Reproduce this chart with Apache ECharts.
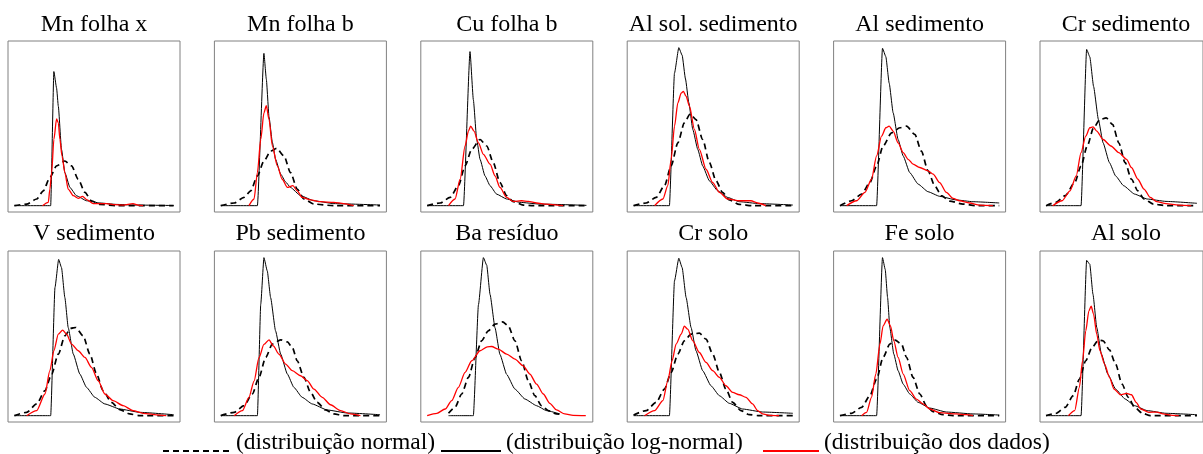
<!DOCTYPE html>
<html>
<head>
<meta charset="utf-8">
<script src="https://cdn.jsdelivr.net/npm/echarts@6/dist/echarts.min.js"></script>
<style>
html,body{margin:0;padding:0;background:#fff;}
#chart{width:1203px;height:454px;}
</style>
</head>
<body>
<div id="chart"></div>
<script>
// Panel titles (row-major order)
const panelTitles = ['Mn folha x','Mn folha b','Cu folha b','Al sol. sedimento','Al sedimento','Cr sedimento',
  'V sedimento','Pb sedimento','Ba resíduo','Cr solo','Fe solo','Al solo'];
const seriesNames = ['(distribuição normal)','(distribuição log-normal)','(distribuição dos dados)'];

// Each curve: [x, density] in relative units (x 0..100 of the plotted range, density 0..100 of the panel's max)
const p1Normal = [[0,0],[7.7,1.0],[14.0,4.2],[18.2,9.4],[22.3,17.8],[26.5,25.1],[31.7,28.2],[35.9,25.1],[40.1,16.7],[44.3,8.4],[48.4,3.1],[53.7,0.8],[64.1,0],[100,0]];
const p1LogNormal = [[0,0],[22.8,0],[24.8,84.7],[26.5,74.3],[27.6,62.8],[29.6,35.6],[31.7,20.9],[34.9,11.5],[39.0,6.3],[45.3,3.1],[53.7,1.7],[64.1,0.8],[74.5,0.4],[100,0.1]];
const p1Data = [[17.7,0],[21.3,2.1],[22.3,10.5],[23.4,20.9],[24.8,41.8],[26.5,54.8],[27.6,52.3],[28.6,41.8],[29.9,31.4],[31.7,20.9],[33.8,10.5],[37.0,6.3],[40.1,4.6],[42.8,5.9],[45.7,3.6],[49.5,1.3],[57.8,1.3],[63.0,0.6],[68.3,0.4],[74.5,1.3],[77.7,0.4],[80.8,0]];

const p2Normal = [[0,0],[8.4,1.7],[14.6,5.2],[18.8,9.4],[23.0,18.8],[27.1,28.2],[31.3,34.5],[35.1,36.2],[39.7,31.4],[43.8,20.9],[48.0,10.5],[52.2,4.2],[58.5,1.0],[71.0,0],[100,0]];
const p2LogNormal = [[0,0],[23.0,0],[27.1,96.2],[28.6,80],[30.3,56],[32.4,40],[34.4,29.3],[37.6,20],[40.7,15],[43.8,11.5],[50.1,6.3],[58.5,3.1],[71.0,1.3],[100,0.4]];
const p2Data = [[17.7,0],[20.9,4.2],[23.0,20.9],[25.1,41.8],[27.1,58.6],[28.6,63.2],[30.3,54.4],[32.4,37.7],[35.5,25.1],[38.6,16.7],[41.8,11.5],[45.3,12.6],[48.0,9.4],[51.1,5.2],[56.4,3.6],[62.6,2.5],[71.0,2.1],[77.2,1.3],[83.5,0]];

const p3Normal = [[0,0],[8.1,1.7],[14.4,5.2],[19.6,12.6],[23.8,25.1],[28.0,35.6],[33.2,41.8],[37.4,37.7],[41.5,27.2],[45.7,14.6],[49.9,6.3],[54.1,2.5],[60.3,0.4],[66.6,0],[100,0]];
const p3LogNormal = [[0,0],[22.8,0],[26.9,97.3],[29.0,66.9],[31.1,41.8],[33.2,29.3],[36.3,18.8],[39.5,12.6],[43.6,7.3],[49.9,4.2],[58.2,2.1],[70.8,1.0],[100,0.2]];
const p3Data = [[13.4,0],[17.5,4.2],[20.7,16.7],[23.8,37.7],[25.9,47.1],[27.3,50.2],[29.4,47.1],[32.2,39.7],[35.3,32.4],[39.5,26.2],[42.6,18.8],[45.7,11.5],[49.9,5.2],[54.1,2.7],[59.3,3.1],[63.5,2.7],[68.7,1.7],[74.9,1.0],[85.4,0]];

const p4Normal = [[0,0],[7.9,1.7],[14.2,5.2],[19.4,12.6],[23.6,25.1],[27.8,39.7],[31.9,52.3],[35.5,57.9],[39.2,54.4],[43.4,41.8],[47.6,27.2],[51.8,15.7],[55.9,8.4],[60.1,3.6],[66.4,0.8],[74.7,0],[100,0]];
const p4LogNormal = [[0,0],[22.5,0],[25.7,83.7],[28.4,99.8],[30.5,95],[32.6,80],[34.7,65],[37.2,48.1],[40.3,35.6],[43.4,25.1],[47.6,15.7],[52.8,9.4],[59.1,5.2],[66.4,2.5],[78.9,1.3],[100,0.4]];
const p4Data = [[13.2,0],[18.4,4.2],[21.5,12.6],[23.6,29.3],[25.7,50.2],[27.8,64.9],[29.9,71.1],[31.3,72.2],[33.0,69.0],[35.1,62.8],[38.2,48.1],[41.3,35.6],[45.5,23.0],[49.7,14.6],[53.9,8.4],[59.1,4.2],[66.4,3.1],[73.7,3.1],[77.9,1.7],[83.1,0]];

const p5Normal = [[0,0],[7.3,3.1],[13.6,7.3],[18.8,14.6],[23.0,25.1],[27.1,37.7],[32.4,46.0],[37.6,49.2],[41.8,50.2],[47.0,45.0],[51.1,34.5],[55.3,22.0],[59.5,12.6],[63.7,6.3],[68.9,2.9],[77.2,1.0],[85.6,0],[100,0]];
const p5LogNormal = [[0,0],[23.0,0],[26.7,99.4],[28.8,94.1],[30.9,77.4],[33.4,58.6],[36.5,41.8],[39.7,31.4],[43.8,20.9],[49.1,13.6],[55.3,8.8],[62.6,5.9],[73.1,3.6],[83.5,2.5],[100,1.7]];
const p5Data = [[4.2,0],[10.4,3.1],[15.7,8.4],[19.8,16.7],[23.0,31.4],[26.1,43.9],[28.8,49.2],[30.9,50.2],[33.4,47.1],[36.5,39.7],[39.7,33.5],[42.8,29.3],[45.9,26.2],[50.1,24.1],[55.3,22.0],[58.5,19.9],[62.6,14.6],[66.8,8.4],[71.0,4.6],[75.2,3.1],[81.4,1.7],[87.7,0.4],[96.0,0]];

const p6Normal = [[0,0],[6.5,2.1],[12.7,6.3],[19.0,14.6],[23.2,25.1],[27.3,37.7],[31.5,49.2],[35.7,54.4],[39.9,55.4],[44.1,51.3],[48.2,39.7],[52.4,27.2],[56.6,16.7],[60.8,9.4],[64.9,4.2],[71.2,1.0],[79.5,0],[100,0]];
const p6LogNormal = [[0,0],[23.2,0],[26.9,98.7],[29.0,94],[31.5,75.3],[34.7,54.4],[37.8,39.7],[42.0,27.2],[46.1,18.8],[51.4,12.6],[58.7,7.3],[67.0,4.2],[79.5,2.7],[100,1.5]];
const p6Data = [[4.4,0],[10.6,3.1],[15.9,9.4],[20.0,18.8],[23.2,33.5],[26.3,43.9],[29.0,49.2],[31.1,49.8],[33.6,47.1],[37.8,41.8],[43.0,37.7],[48.2,33.5],[53.4,29.3],[56.6,24.1],[60.8,16.7],[64.9,10.5],[69.1,5.2],[73.3,2.5],[79.5,1.3],[87.9,0.4],[96.2,0]];

const p7Normal = [[0,0],[7.7,2.1],[14.0,7.4],[19.2,15.8],[23.4,26.3],[27.6,38.9],[31.7,50.4],[35.3,55.1],[38.6,55.7],[43.2,50.4],[47.4,38.9],[51.6,26.3],[55.7,15.8],[61.0,8.4],[66.2,3.8],[72.4,1.1],[78.7,0],[100,0]];
const p7LogNormal = [[0,0],[22.8,0],[25.5,80.9],[27.8,98.7],[29.6,93.5],[31.7,74.6],[33.8,55.7],[37.0,38.9],[41.1,26.3],[45.3,17.9],[50.5,11.6],[56.8,7.4],[66.2,4.2],[78.7,2.1],[100,0.6]];
const p7Data = [[7.7,0],[14.0,3.2],[19.2,13.7],[22.3,28.4],[24.8,41.0],[27.6,51.5],[30.3,54.0],[32.8,51.5],[35.9,45.2],[40.1,41.0],[44.3,36.8],[48.4,30.5],[52.6,22.1],[56.8,13.7],[62.0,9.5],[68.3,6.3],[74.5,3.2],[80.8,1.5],[91.2,0.4],[95.4,0]];

const p8Normal = [[0,0],[8.4,2.1],[14.6,6.3],[19.8,13.7],[24.0,24.2],[28.2,36.8],[32.4,45.2],[37.6,47.9],[41.8,46.6],[44.9,43.1],[48.0,34.7],[52.2,24.2],[56.4,14.7],[60.5,8.4],[65.8,3.6],[71.0,1.1],[77.2,0],[100,0]];
const p8LogNormal = [[0,0],[23.0,0],[25.1,70.4],[27.1,99.8],[29.2,91.4],[31.3,74.6],[34.4,53.6],[37.6,38.9],[41.8,26.3],[45.9,17.9],[51.1,11.6],[57.4,7.4],[66.8,3.6],[79.3,1.7],[100,0.6]];
const p8Data = [[8.4,0],[13.6,3.2],[17.7,11.6],[20.9,21.8],[24.0,36.6],[27.1,45.0],[30.3,47.9],[33.0,44.1],[36.5,38.9],[40.7,32.6],[44.9,28.4],[50.1,25.2],[54.3,22.1],[58.5,16.8],[63.7,11.6],[68.9,6.9],[75.2,3.2],[81.4,1.1],[87.7,0]];

const p9Normal = [[13.4,1.5],[17.5,5.3],[21.7,13.7],[25.9,24.2],[30.1,36.8],[34.2,47.3],[38.4,53.6],[42.6,57.8],[47.4,59.2],[50.9,56.7],[55.1,47.3],[59.3,34.7],[63.5,22.1],[67.6,12.6],[71.8,6.3],[76.0,3.2],[81.2,1.1],[85.4,0.4]];
const p9LogNormal = [[13.4,0],[29.0,0],[32.2,70],[35.3,99.8],[37.4,95],[39.5,76.5],[42.6,55.5],[45.7,38.7],[49.9,26.1],[55.1,16.8],[61.4,10.5],[68.7,6.3],[74.9,3.2],[83.3,1.1]];
const p9Data = [[0,0],[6.1,1.5],[11.3,4.2],[15.4,9.5],[19.6,17.9],[23.8,27.3],[28.0,34.7],[33.2,41.0],[37.8,43.5],[40.5,43.7],[44.7,42.0],[49.9,38.9],[55.1,35.7],[60.3,31.5],[64.5,26.3],[68.7,19.9],[72.9,13.7],[77.0,7.8],[81.2,3.6],[86.4,1.1],[91.6,0.2],[99.6,0]];

const p10Normal = [[0,0.4],[7.9,3.2],[14.2,8.4],[19.4,16.8],[23.6,27.3],[27.8,38.9],[31.9,47.3],[36.1,51.5],[41.3,52.1],[45.5,48.3],[49.7,38.9],[53.9,27.3],[58.0,16.8],[62.2,8.4],[67.4,3.2],[72.7,0.6],[78.9,0],[100,0]];
const p10LogNormal = [[0,0],[22.5,0],[25.7,85.1],[28.4,99.4],[30.5,93.5],[33.0,74.6],[36.1,55.7],[39.2,41.0],[43.4,28.4],[48.6,18.9],[53.9,12.6],[60.1,7.8],[68.5,4.2],[81.0,2.3],[100,1.5]];
const p10Data = [[6.9,0],[13.2,3.2],[18.4,9.5],[21.5,22.1],[24.2,34.7],[26.7,45.2],[29.9,51.5],[31.9,56.5],[34.0,54.6],[37.2,47.3],[41.3,39.9],[45.5,33.6],[49.7,28.4],[53.9,24.2],[58.0,18.9],[62.2,14.7],[66.4,13.2],[70.6,11.6],[74.7,7.4],[77.9,3.2],[81.0,1.1],[85.2,0.2],[91.4,0]];

const p11Normal = [[0,0],[7.3,1.5],[13.6,5.3],[18.8,12.6],[23.0,23.1],[27.1,36.8],[31.3,45.2],[34.7,47.7],[38.6,45.2],[41.8,36.8],[45.9,24.2],[50.1,13.7],[54.3,6.3],[58.5,2.5],[64.7,0.6],[71.0,0],[100,0]];
const p11LogNormal = [[0,0],[23.0,0],[26.7,99.8],[28.4,92.4],[29.9,74.6],[31.3,55.7],[33.8,38.9],[36.5,28.4],[39.7,19.9],[43.8,13.7],[49.1,8.4],[56.4,4.8],[66.8,2.3],[83.5,1.1],[100,0.4]];
const p11Data = [[13.6,0],[16.7,2.1],[19.8,11.6],[22.5,26.3],[25.1,45.2],[27.1,56.7],[29.6,60.9],[31.7,56.7],[33.8,47.3],[36.5,36.8],[39.7,26.3],[43.8,15.8],[48.0,10.5],[52.2,7.4],[56.4,4.2],[62.6,1.9],[73.1,1.1],[79.3,0.6],[83.5,0]];

const p12Normal = [[0,0],[6.5,1.5],[12.7,5.3],[18.0,12.6],[22.1,23.1],[26.3,34.7],[30.5,43.1],[34.7,47.7],[37.8,47.3],[42.0,41.6],[46.1,32.6],[50.3,20.0],[54.5,11.6],[58.7,5.3],[63.9,1.5],[69.1,0],[100,0]];
const p12LogNormal = [[0,0],[23.2,0],[26.9,98.1],[29.0,95.6],[31.1,76.7],[33.6,55.7],[36.7,38.9],[40.9,26.3],[46.1,16.8],[52.4,10.5],[58.7,6.3],[67.0,3.2],[79.5,1.5],[100,0.6]];
const p12Data = [[14.8,0],[19.0,3.2],[22.1,17.9],[24.2,34.7],[26.3,53.6],[28.4,66.2],[29.9,69.1],[31.5,64.1],[33.6,51.5],[35.7,41.0],[38.8,32.6],[42.0,24.2],[45.1,16.8],[49.3,13.2],[53.4,14.1],[56.6,13.2],[59.7,8.4],[62.8,4.2],[68.1,2.1],[73.3,2.3],[77.5,1.1],[83.7,0.2],[87.9,0]];

const normalCurves = [p1Normal,p2Normal,p3Normal,p4Normal,p5Normal,p6Normal,p7Normal,p8Normal,p9Normal,p10Normal,p11Normal,p12Normal];
const logNormalCurves = [p1LogNormal,p2LogNormal,p3LogNormal,p4LogNormal,p5LogNormal,p6LogNormal,p7LogNormal,p8LogNormal,p9LogNormal,p10LogNormal,p11LogNormal,p12LogNormal];
const dataCurves = [p1Data,p2Data,p3Data,p4Data,p5Data,p6Data,p7Data,p8Data,p9Data,p10Data,p11Data,p12Data];

const FONT = '"Liberation Serif","Times New Roman",Times,serif';
const chart = echarts.init(document.getElementById('chart'), null, {renderer: 'canvas'});

const grids = [], xAxes = [], yAxes = [], titles = [], series = [];
const colStep = 206.4, boxW = 172, boxH = 171;
const rowTops = [41, 251];
const titleTops = [13, 222];

panelTitles.forEach((t, i) => {
  const row = Math.floor(i / 6), col = i % 6;
  const left = 8 + col * colStep;
  grids.push({left: left, top: rowTops[row], width: boxW, height: boxH, show: true,
    borderColor: '#808080', borderWidth: 1, backgroundColor: 'transparent', containLabel: false});
  xAxes.push({type: 'value', gridIndex: i, min: -4, max: 104, show: false});
  yAxes.push({type: 'value', gridIndex: i, min: -4, max: 104, show: false});
  titles.push({text: t, left: left + boxW / 2, top: titleTops[row], textAlign: 'center', padding: 0,
    textStyle: {fontFamily: FONT, fontSize: 24, fontWeight: 'normal', color: '#000'}});
  const common = {type: 'line', xAxisIndex: i, yAxisIndex: i, symbol: 'none', showSymbol: false,
    smooth: 0.25, smoothMonotone: 'x', silent: true, clip: true};
  series.push(Object.assign({}, common, {name: seriesNames[0], data: normalCurves[i],
    lineStyle: {color: '#000', width: 1.7, type: [6, 4]}, itemStyle: {color: '#000'}}));
  series.push(Object.assign({}, common, {name: seriesNames[1], data: logNormalCurves[i], smooth: 0.15,
    lineStyle: {color: '#000', width: 1}, itemStyle: {color: '#000'}}));
  series.push(Object.assign({}, common, {name: seriesNames[2], data: dataCurves[i],
    lineStyle: {color: '#ff0000', width: 1.3}, itemStyle: {color: '#ff0000'}}));
});

// Legend: line sample sits on the text baseline; the trailing empty line lifts the text above the sample
const legendBase = {orient: 'horizontal', top: 430.5, padding: 0, itemHeight: 14, selectedMode: false,
  itemStyle: {opacity: 0, borderWidth: 0},
  formatter: '{name}\n',
  textStyle: {fontFamily: FONT, fontSize: 23.5, color: '#000', lineHeight: 17}};
const legends = [
  Object.assign({}, legendBase, {left: 162, itemWidth: 68, data: [seriesNames[0]]}),
  Object.assign({}, legendBase, {left: 440, itemWidth: 60, data: [seriesNames[1]]}),
  Object.assign({}, legendBase, {left: 762, itemWidth: 56, data: [seriesNames[2]]})
];

chart.setOption({
  animation: false,
  backgroundColor: '#fff',
  title: titles,
  legend: legends,
  grid: grids,
  xAxis: xAxes,
  yAxis: yAxes,
  series: series
});
</script>
</body>
</html>
